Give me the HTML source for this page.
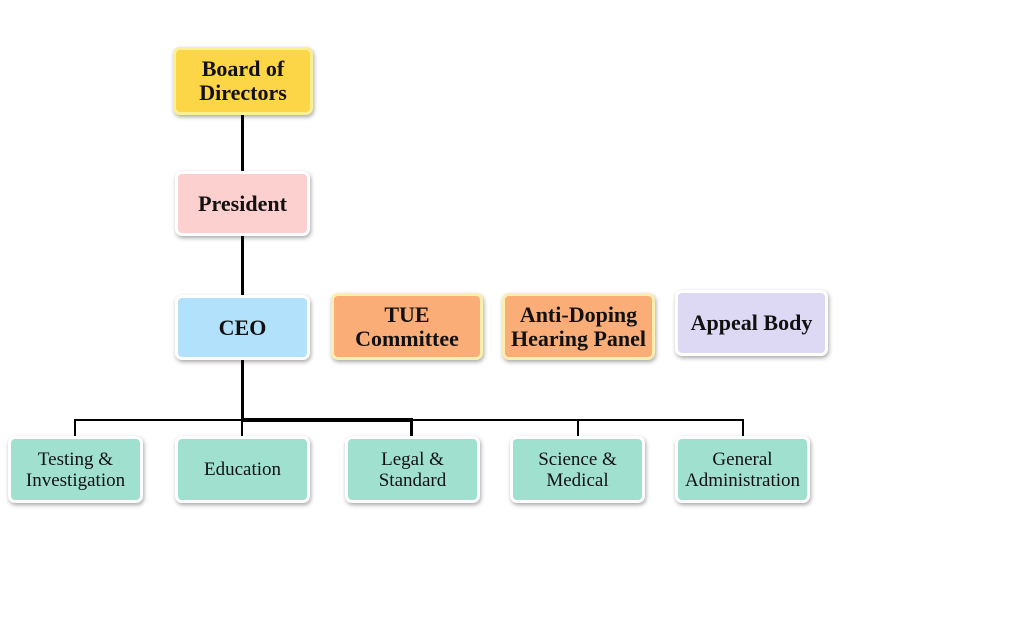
<!DOCTYPE html>
<html><head><style>
body{margin:0;width:1024px;height:625px;background:#fff;position:relative;overflow:hidden;font-family:"Liberation Serif",serif;}
.b{position:absolute;box-sizing:border-box;border:3px solid #fff;border-radius:7px;display:flex;align-items:center;justify-content:center;text-align:center;box-shadow:1px 2px 4px rgba(0,0,0,.35);color:#111;}
.t{font-weight:bold;font-size:22px;line-height:24px;}
.s{font-size:19px;line-height:21px;background:#9fe0cf;}
.l{position:absolute;background:#000;}
</style></head><body>
<div class="l" style="left:241px;top:112px;width:3px;height:62px"></div>
<div class="l" style="left:241px;top:234px;width:3px;height:63px"></div>
<div class="l" style="left:241px;top:358px;width:3px;height:63px"></div>
<div class="l" style="left:74px;top:419px;width:670px;height:2px"></div>
<div class="l" style="left:241px;top:418px;width:172px;height:4px"></div>
<div class="l" style="left:74px;top:419px;width:2px;height:18px"></div>
<div class="l" style="left:241px;top:419px;width:2px;height:18px"></div>
<div class="l" style="left:410px;top:419px;width:3px;height:18px"></div>
<div class="l" style="left:577px;top:419px;width:2px;height:18px"></div>
<div class="l" style="left:742px;top:419px;width:2px;height:18px"></div>

<div class="b t" style="left:173px;top:47px;width:140px;height:68px;background:#fdd648;border-color:#fbef95">Board of<br>Directors</div>
<div class="b t" style="left:175px;top:171px;width:135px;height:65px;background:#fdd0d0">President</div>
<div class="b t" style="left:175px;top:295px;width:135px;height:65px;background:#b2e2fb">CEO</div>
<div class="b t" style="left:331px;top:293px;width:152px;height:67px;background:#fbad77;border-color:#fbeeb0">TUE<br>Committee</div>
<div class="b t" style="left:502px;top:293px;width:153px;height:67px;background:#fbad77;border-color:#fbeeb0">Anti-Doping<br>Hearing Panel</div>
<div class="b t" style="left:675px;top:290px;width:153px;height:66px;background:#ddd9f4">Appeal Body</div>

<div class="b s" style="left:8px;top:436px;width:135px;height:67px">Testing &amp;<br>Investigation</div>
<div class="b s" style="left:175px;top:436px;width:135px;height:67px">Education</div>
<div class="b s" style="left:345px;top:436px;width:135px;height:67px">Legal &amp;<br>Standard</div>
<div class="b s" style="left:510px;top:436px;width:135px;height:67px">Science &amp;<br>Medical</div>
<div class="b s" style="left:675px;top:436px;width:135px;height:67px">General<br>Administration</div>
</body></html>
